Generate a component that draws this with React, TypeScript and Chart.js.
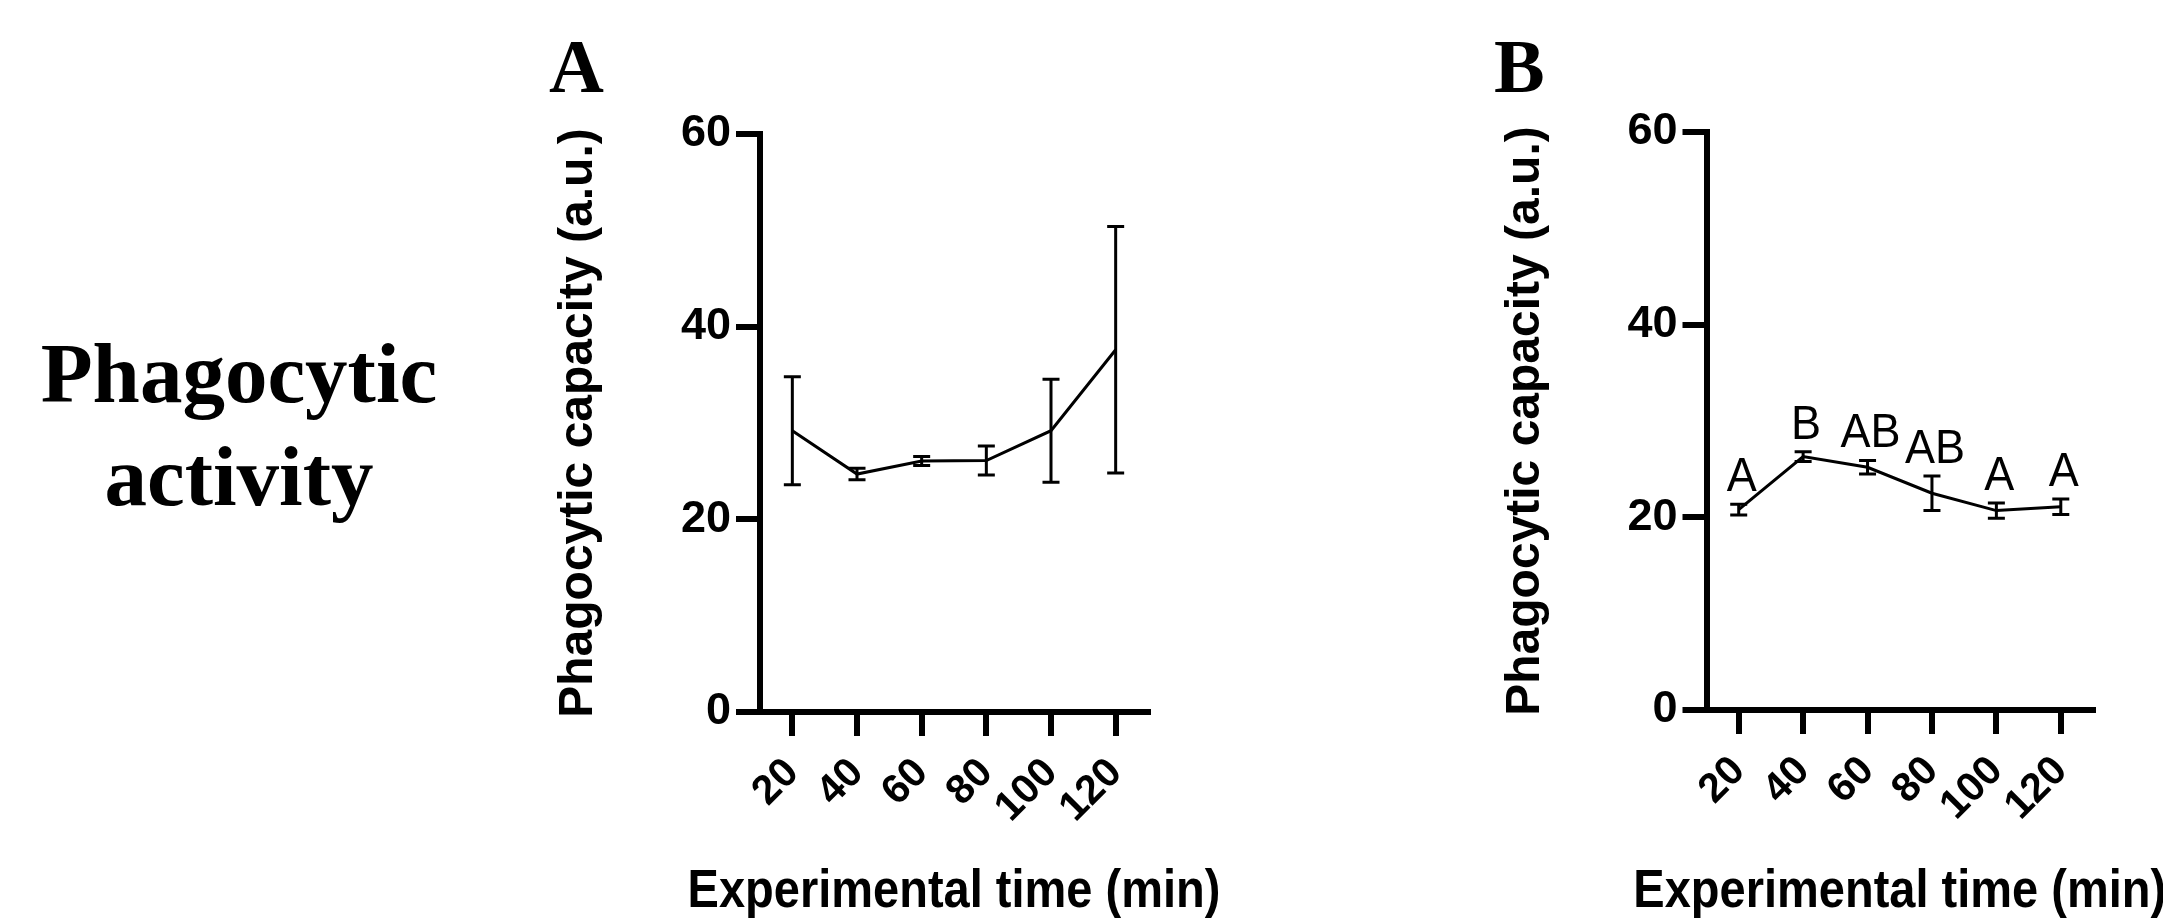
import React, { useEffect, useRef } from 'react';
import { Chart, registerables } from 'chart.js';

Chart.register(...registerables);

// ---- data ----
const timeLabels = ['20', '40', '60', '80', '100', '120'];
const meanA = [29.2, 24.7, 26.05, 26.1, 29.2, 37.6];
const sdA = [5.6, 0.6, 0.47, 1.5, 5.35, 12.8];
const meanB = [20.8, 26.3, 25.2, 22.5, 20.7, 21.1];
const sdB = [0.55, 0.5, 0.7, 1.8, 0.8, 0.8];
const lettersB = ['A', 'B', 'AB', 'AB', 'A', 'A'];
const yTicks = [0, 20, 40, 60];
const yTitle = 'Phagocytic capacity (a.u.)';
const xTitle = 'Experimental time (min)';
const sideTitle = ['Phagocytic', 'activity'];

const SANS = '"Liberation Sans", Arial, Helvetica, sans-serif';
const SERIF = '"Liberation Serif", "Times New Roman", Times, serif';
const H = 919;

type PanelProps = {
  left: number;
  width: number;
  means: number[];
  sds: number[];
  letters?: string[];
  yAxisWidth: number;
  padRight: number;
  top: number;
  bottom: number;
  yTitlePad: number;
};

function Panel(p: PanelProps) {
  const ref = useRef<HTMLCanvasElement | null>(null);
  useEffect(() => {
    if (!ref.current) return;
    const errPlugin = {
      id: 'errAndText',
      afterDatasetsDraw(chart: any) {
        const { ctx, scales } = chart;
        const y = scales.y;
        const meta = chart.getDatasetMeta(0);
        ctx.save();
        ctx.strokeStyle = '#000';
        ctx.lineWidth = 3;
        ctx.lineCap = 'butt';
        meta.data.forEach((pt: any, i: number) => {
          const x = pt.x;
          const t = y.getPixelForValue(p.means[i] + p.sds[i]);
          const b = y.getPixelForValue(p.means[i] - p.sds[i]);
          ctx.beginPath();
          ctx.moveTo(x, t);
          ctx.lineTo(x, b);
          ctx.moveTo(x - 8.5, t);
          ctx.lineTo(x + 8.5, t);
          ctx.moveTo(x - 8.5, b);
          ctx.lineTo(x + 8.5, b);
          ctx.stroke();
          if (p.letters) {
            ctx.save();
            ctx.fillStyle = '#000';
            ctx.font = `45px ${SANS}`;
            ctx.textAlign = 'center';
            ctx.textBaseline = 'alphabetic';
            ctx.translate(x + 3, t - 13);
            ctx.scale(1, 1.07);
            ctx.fillText(p.letters[i], 0, 0);
            ctx.restore();
          }
        });
        ctx.restore();
      },
      afterDraw(chart: any) {
        const { ctx, chartArea } = chart;
        ctx.save();
        ctx.fillStyle = '#000';
        ctx.font = `bold 47px ${SANS}`;
        ctx.textAlign = 'center';
        ctx.textBaseline = 'alphabetic';
        ctx.translate((chartArea.left + chartArea.right) / 2, 907);
        ctx.scale(1, 1.13);
        ctx.fillText(xTitle, 0, 0);
        ctx.restore();
      },
    };

    const axisGrid = {
      display: true,
      drawOnChartArea: false,
      color: '#000',
      lineWidth: 6,
      tickLength: 24,
    };
    const axisBorder = { display: true, color: '#000', width: 6 };

    const chart = new Chart(ref.current, {
      type: 'line',
      data: {
        labels: timeLabels,
        datasets: [
          {
            data: p.means,
            borderColor: '#000',
            borderWidth: 3,
            pointRadius: 0,
            fill: false,
            tension: 0,
          },
        ],
      },
      options: {
        responsive: false,
        animation: false,
        layout: { padding: { left: 0, right: p.padRight, top: p.top, bottom: 0 } },
        plugins: { legend: { display: false }, tooltip: { enabled: false } },
        scales: {
          x: {
            type: 'category',
            offset: true,
            grid: axisGrid,
            border: axisBorder,
            ticks: {
              color: '#000',
              font: { family: SANS, size: 41, weight: 'bold' },
              minRotation: 45,
              maxRotation: 45,
              autoSkip: false,
              padding: 13,
            },
            afterFit: (s: any) => {
              s.height = H - p.bottom;
            },
          },
          y: {
            type: 'linear',
            min: 0,
            max: 60,
            afterBuildTicks: (s: any) => {
              s.ticks = yTicks.map((v) => ({ value: v }));
            },
            grid: axisGrid,
            border: axisBorder,
            ticks: {
              color: '#000',
              font: { family: SANS, size: 45, weight: 'bold' },
              padding: 5,
            },
            title: {
              display: true,
              text: yTitle,
              color: '#000',
              font: { family: SANS, size: 48, weight: 'bold' },
              padding: { top: p.yTitlePad, bottom: 0 },
            },
            afterFit: (s: any) => {
              s.width = p.yAxisWidth;
            },
          },
        },
      } as any,
      plugins: [errPlugin as any],
    });
    return () => chart.destroy();
  }, []);
  return (
    <canvas
      ref={ref}
      width={p.width}
      height={H}
      style={{ position: 'absolute', left: p.left, top: 0, width: p.width, height: H }}
    />
  );
}

export default function App() {
  return (
    <div
      style={{
        position: 'absolute',
        left: 0,
        top: 0,
        width: 2163,
        height: H,
        overflow: 'hidden',
        background: '#fff',
      }}
    >
      <div
        style={{
          position: 'absolute',
          left: 0,
          top: 321.5,
          width: 478,
          textAlign: 'center',
          fontFamily: SERIF,
          fontWeight: 'bold',
          fontSize: 85,
          lineHeight: '103px',
          color: '#000',
        }}
      >
        {sideTitle.map((s) => (
          <div key={s}>{s}</div>
        ))}
      </div>
      <div
        style={{
          position: 'absolute',
          left: 549,
          top: 28.4,
          fontFamily: SERIF,
          fontWeight: 'bold',
          fontSize: 76,
          lineHeight: 1,
          color: '#000',
        }}
      >
        A
      </div>
      <div
        style={{
          position: 'absolute',
          left: 1494,
          top: 28.4,
          fontFamily: SERIF,
          fontWeight: 'bold',
          fontSize: 76,
          lineHeight: 1,
          color: '#000',
        }}
      >
        B
      </div>
      <Panel
        left={520}
        width={780}
        means={meanA}
        sds={sdA}
        yAxisWidth={240}
        padRight={152}
        top={134}
        bottom={712}
        yTitlePad={30.2}
      />
      <Panel
        left={1460}
        width={703}
        means={meanB}
        sds={sdB}
        letters={lettersB}
        yAxisWidth={246.5}
        padRight={70}
        top={132}
        bottom={710}
        yTitlePad={37.2}
      />
    </div>
  );
}
